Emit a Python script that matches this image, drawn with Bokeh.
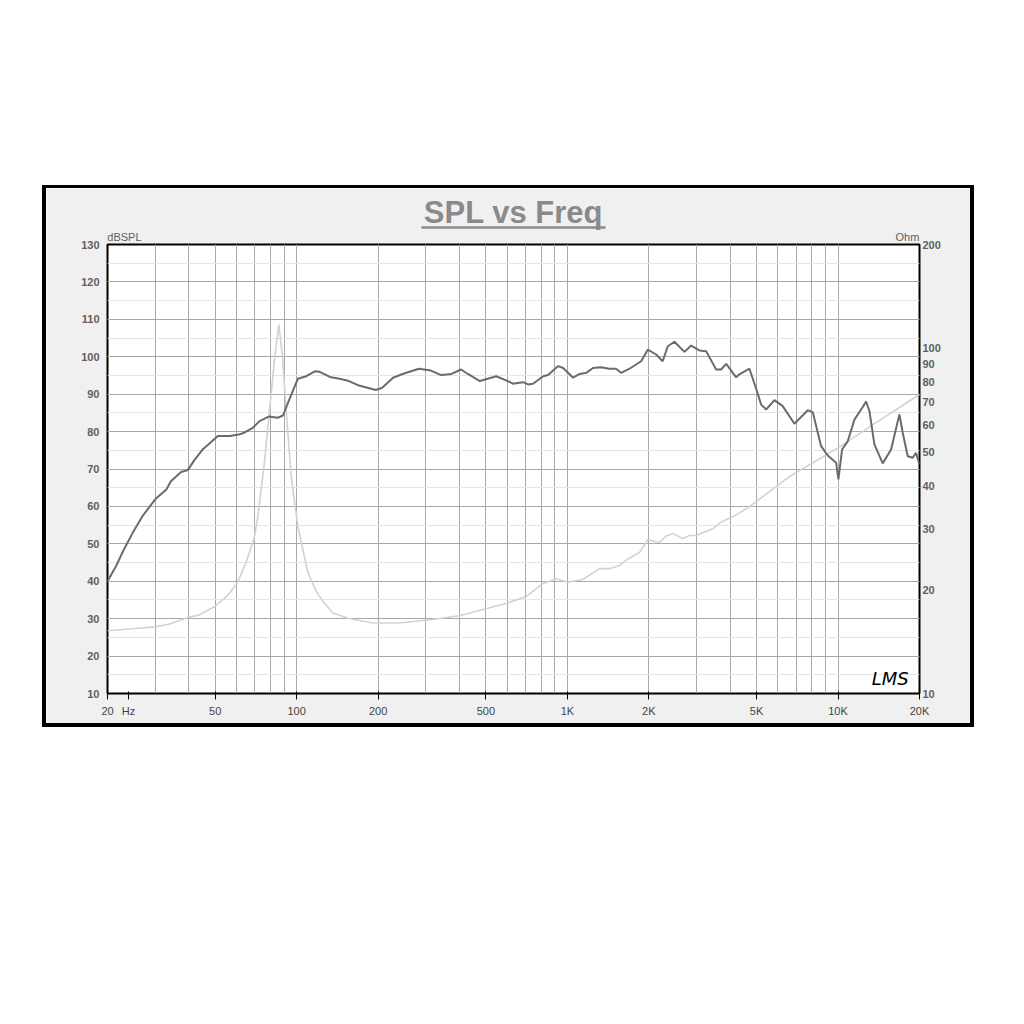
from bokeh.plotting import figure
from bokeh.models import (Range1d, LogScale, LogAxis, LinearAxis, FixedTicker,
                          SingleIntervalTicker, Label, Spacer)
from bokeh.layouts import column, row
from bokeh.embed import file_html
from bokeh.resources import INLINE

# ---- data ----
spl_freq = [20, 21.5, 23, 24.8, 27, 30, 33, 34.3, 37.4, 39.6, 42, 44.9, 47.3, 51.1, 56.7, 61, 64,
            68.8, 72.9, 78.8, 85, 89, 95, 101, 108.5, 116.7, 121, 132.7, 144, 156, 170, 196, 207,
            227, 246, 283, 313, 342, 373, 405, 429, 475, 546, 603, 629, 686, 716, 747, 814, 849,
            925, 965, 1050, 1110, 1175, 1243, 1330, 1430, 1514, 1580, 1697, 1873, 1982, 2128,
            2250, 2350, 2487, 2708, 2866, 3076, 3256, 3546, 3698, 3862, 4204, 4322, 4706, 4982,
            5200, 5426, 5822, 6248, 6902, 7728, 8066, 8660, 9162, 9840, 10032, 10352, 10860,
            11497, 12172, 12698, 13062, 13628, 14626, 15706, 16856, 17338, 18092, 18876, 19428,
            20000]
spl_db = [40, 44, 48.5, 53, 57.5, 61.9, 64.5, 66.7, 69.2, 69.7, 72.5, 75.2, 76.6, 78.8, 78.8, 79.2,
          79.7, 81, 82.8, 84, 83.7, 84.3, 89.5, 94.1, 94.8, 96.1, 96, 94.6, 94.1, 93.5, 92.3, 91.1,
          91.7, 94.4, 95.4, 96.8, 96.3, 95.1, 95.4, 96.6, 95.4, 93.5, 94.8, 93.5, 92.8, 93.2, 92.6,
          92.8, 94.8, 95.1, 97.5, 97, 94.4, 95.4, 95.7, 97, 97.2, 96.8, 96.8, 95.7, 96.8, 98.8,
          101.9, 100.6, 98.8, 102.8, 104, 101.3, 103, 101.7, 101.5, 96.6, 96.6, 98.1, 94.5, 95.3,
          96.8, 91.5, 87.2, 85.9, 88.4, 86.8, 82.1, 85.7, 85.2, 76.1, 73.6, 71.7, 67.2, 75.2, 77.4,
          83.2, 85.9, 88, 85.5, 76.6, 71.5, 75.2, 84.6, 79.7, 73.4, 73, 74.3, 71.2]

imp_freq = [20, 24.8, 30, 34, 39.6, 43.7, 50, 55.5, 60.3, 64.9, 67.8, 69.8, 71.8, 76, 79.4, 82.8,
            85.9, 88.8, 91.4, 95.4, 101, 110, 118, 125, 136, 156, 191, 220, 239, 301, 399, 501,
            602, 704, 811, 909, 1003, 1140, 1314, 1430, 1557, 1697, 1846, 1982, 2188, 2317, 2452,
            2670, 2825, 2991, 3444, 3698, 4083, 4640, 6610, 10000, 13430, 20000]
imp_ohm = [15.2, 15.4, 15.6, 15.9, 16.6, 16.9, 17.9, 19.2, 20.9, 23.9, 26.5, 28.4, 32.5, 46.6, 66.5,
           92.9, 117.3, 92.9, 66.5, 42.6, 30.5, 22.4, 19.8, 18.5, 17.1, 16.5, 16.0, 16.0, 16.0,
           16.3, 16.8, 17.6, 18.3, 19.1, 20.8, 21.5, 21.0, 21.4, 23.0, 23.0, 23.5, 24.7, 25.6,
           27.9, 27.4, 28.6, 29.1, 28.1, 28.7, 28.7, 30.0, 31.4, 32.5, 34.5, 42.5, 51.5, 60.0, 73.5]

x_ticks = [20, 50, 100, 200, 500, 1000, 2000, 5000, 10000, 20000]
x_tick_labels = ["20", "50", "100", "200", "500", "1K", "2K", "5K", "10K", "20K"]
x_minor_lines = [30, 40, 60, 70, 80, 90, 300, 400, 600, 700, 800, 900,
                 3000, 4000, 6000, 7000, 8000, 9000]
hz_unit = (23.9, "Hz")
ohm_ticks = [10, 20, 30, 40, 50, 60, 70, 80, 90, 100, 200]
title_text = "SPL vs Freq"
left_unit = "dBSPL"
right_unit = "Ohm"

FONT = "Liberation Sans"
LABEL_COLOR = "#5f5f5f"
TITLE_COLOR = "#8a8a8a"

p = figure(width=932, height=542, x_axis_type="log",
           x_range=Range1d(20, 20000), y_range=Range1d(10, 130),
           output_backend="svg", toolbar_location=None,
           min_border_left=61, min_border_right=59, min_border_top=56, min_border_bottom=37,
           background_fill_color="white", border_fill_color="#f0f0f0",
           outline_line_color="black", outline_line_width=2)
p.styles = {"border": "4px solid black", "border-top-width": "3px"}

# x axis (labels) and x grid
p.xaxis.ticker = FixedTicker(ticks=x_ticks + [hz_unit[0]], minor_ticks=[])
p.xgrid.ticker = FixedTicker(ticks=x_ticks, minor_ticks=x_minor_lines)
ovr = {t: l for t, l in zip(x_ticks, x_tick_labels)}
ovr[hz_unit[0]] = hz_unit[1]
p.xaxis.major_label_overrides = ovr
p.xgrid.grid_line_color = "#a8a8a8"
p.xgrid.minor_grid_line_color = "#a8a8a8"

# left y axis
yt = SingleIntervalTicker(interval=10, num_minor_ticks=2)
p.yaxis.ticker = yt
p.ygrid.ticker = yt
p.ygrid.grid_line_color = "#a8a8a8"
p.ygrid.minor_grid_line_color = "#e4e4e4"

# right impedance axis
p.extra_y_ranges = {"ohm": Range1d(10, 200)}
p.extra_y_scales = {"ohm": LogScale()}
rax = LogAxis(y_range_name="ohm", ticker=FixedTicker(ticks=ohm_ticks, minor_ticks=[]))
p.add_layout(rax, "right")

# top axes: unit names, then title with its underline
unit_ax = LinearAxis(ticker=FixedTicker(ticks=[23.1, 18050], minor_ticks=[]),
                     major_label_overrides={23.1: left_unit, 18050: right_unit})
p.add_layout(unit_ax, "above")
title_ax = LinearAxis(ticker=FixedTicker(ticks=[632], minor_ticks=[]),
                      major_label_overrides={632: title_text}, bounds=(289, 1383))
p.add_layout(title_ax, "above")

for ax in [p.xaxis[0], p.yaxis[0], rax, unit_ax, title_ax]:
    ax.axis_line_color = None
    ax.major_tick_line_color = None
    ax.minor_tick_line_color = None
    ax.major_tick_out = 0
    ax.major_tick_in = 0
    ax.major_label_text_font = FONT
    ax.major_label_text_font_size = "11px"
    ax.major_label_text_font_style = "bold"
    ax.major_label_text_color = LABEL_COLOR
p.xaxis.major_label_standoff = 5
p.yaxis[0].major_label_standoff = 4
rax.major_label_standoff = 3
unit_ax.major_label_text_font_style = "normal"
unit_ax.major_label_standoff = 2
title_ax.axis_line_color = TITLE_COLOR
title_ax.axis_line_width = 2.5
title_ax.major_label_text_font_size = "31px"
title_ax.major_label_text_color = TITLE_COLOR
title_ax.major_label_standoff = -2

# curves
p.line(imp_freq, imp_ohm, y_range_name="ohm", line_color="#d2d2d2", line_width=1.6)
p.line(spl_freq, spl_db, line_color="#6b6b6b", line_width=2)

p.add_layout(Label(x=15600, y=14, text="LMS", text_font="DejaVu Sans", text_font_size="18px",
                   text_font_style="italic", text_color="black", text_align="center",
                   text_baseline="middle"))

layout = column(Spacer(height=185), row(Spacer(width=42), p))
open("out.html", "w").write(file_html(layout, INLINE))
